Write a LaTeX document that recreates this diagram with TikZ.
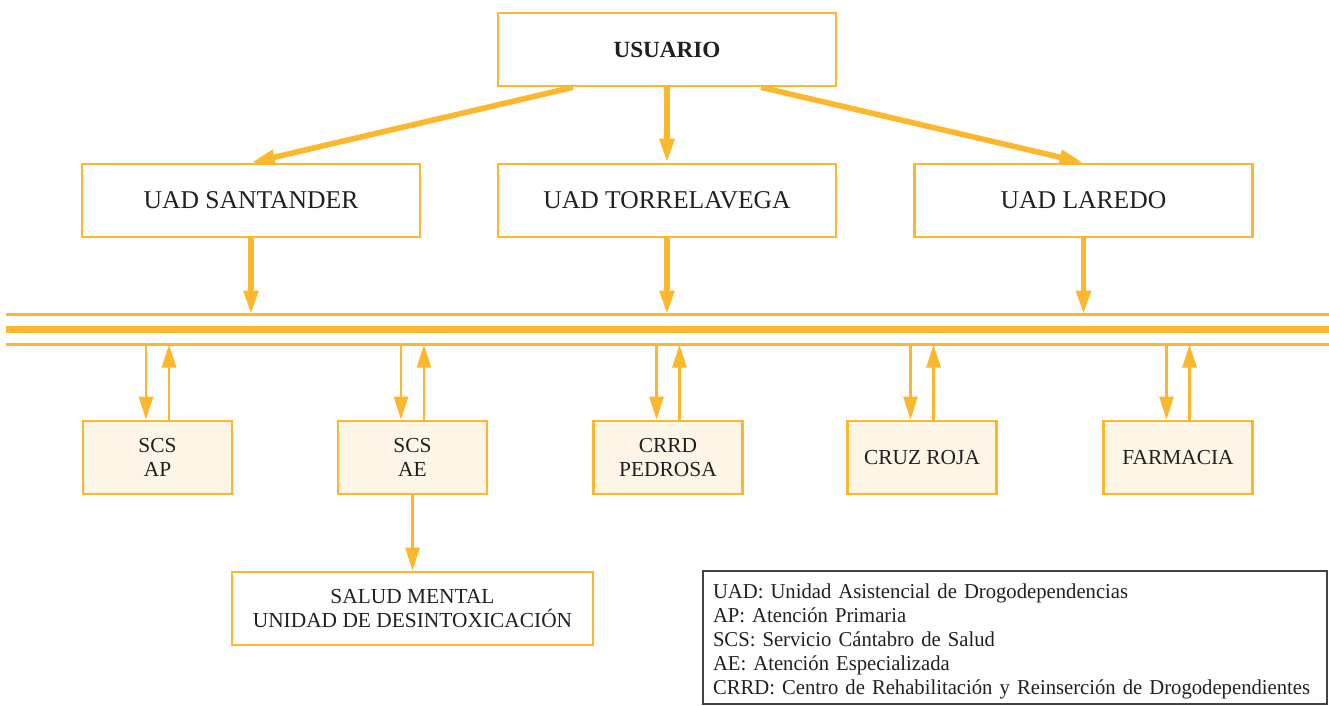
\documentclass[tikz,border=0pt]{standalone}
\usepackage{fontspec}
\setmainfont{Liberation Serif}
\newfontfamily\legendfont{Liberation Serif}[FakeStretch=0.975]
\usetikzlibrary{arrows.meta}
\definecolor{amber}{HTML}{FBB72D}
\definecolor{cream}{HTML}{FDF5E6}
\definecolor{ink}{HTML}{231F20}

\begin{document}
\begin{tikzpicture}
        [x=0.5pt, y=-0.5pt,
        box/.style={draw=amber, line width=1.3pt, text=ink, align=center, inner sep=0pt},
        bigbox/.style={box, minimum width=169pt, minimum height=36.5pt, font=\fontsize{12.8}{15}\selectfont},
        smallbox/.style={box, fill=cream, minimum width=74.5pt, minimum height=36.5pt, font=\fontsize{10.7}{11.7}\selectfont},
        thickarrow/.style={amber, line width=2.8pt, -{Triangle[length=12pt, width=7pt]}},
        thinarrow/.style={amber, line width=1.3pt, -{Triangle[length=11.5pt, width=7pt]}},
        busline/.style={amber, line width=1.2pt}]

        \useasboundingbox (0,0) rectangle (1329,706);

        \node[bigbox, font=\fontsize{11.6}{14}\selectfont\bfseries] (usuario) at (667,49.5) {USUARIO};
        \node[bigbox] (santander) at (251,200.5) {UAD SANTANDER};
        \node[bigbox] (torrelavega) at (667,200.5) {UAD TORRELAVEGA};
        \node[bigbox] (laredo) at (1083.5,200.5) {UAD LAREDO};

        \node[smallbox] (ap) at (157.5,457.5) {SCS\\AP};
        \node[smallbox] (ae) at (412.5,457.5) {SCS\\AE};
        \node[smallbox] (crrd) at (668,457.5) {CRRD\\PEDROSA};
        \node[smallbox] (cruz) at (922,457.5) {CRUZ ROJA};
        \node[smallbox] (farmacia) at (1178,457.5) {FARMACIA};

        \node[box, minimum width=180.5pt, minimum height=36.5pt, font=\fontsize{10.7}{11.7}\selectfont] (salud) at (412.5,608.5) {SALUD MENTAL\\UNIDAD DE DESINTOXICACIÓN};

        % legend box, bottom right
        \node[draw=ink!85, line width=0.6pt, text=ink, minimum width=312pt, minimum height=66.5pt,
            text width=302pt, inner xsep=5pt, inner ysep=0pt, align=left, font=\legendfont\fontsize{10.6}{11.95}\selectfont] (legend) at (1015,637.5)
            {\rule{0pt}{11.3pt}UAD: Unidad Asistencial de Drogodependencias\\
            AP: Atención Primaria\\
            SCS: Servicio Cántabro de Salud\\
            AE: Atención Especializada\\
            CRRD: Centro de Rehabilitación y Reinserción de Drogodependientes};

        % --- the bus: two thin lines round a thick one ---
        \coordinate (bustop) at (6,314.5);
        \coordinate (busbot) at (6,344.5);
        \draw[busline] (bustop) -- (1329,314.5);
        \draw[amber, line width=3.8pt] (6,329.5) -- (1329,329.5);
        \draw[busline] (busbot) -- (1329,344.5);

        \draw[thickarrow] ([xshift=-47pt]usuario.south) -- (santander.north);
        \draw[thickarrow] (usuario) -- (torrelavega);
        \draw[thickarrow] ([xshift=47pt]usuario.south) -- (laredo.north);

        \draw[thickarrow] (santander.south) -- (santander.south |- bustop);
        \draw[thickarrow] (torrelavega.south) -- (torrelavega.south |- bustop);
        \draw[thickarrow] (laredo.south) -- (laredo.south |- bustop);

        % a pair of arrows between the bus and each service
        \foreach \n in {ap,ae,crrd,cruz,farmacia}{
            \coordinate (\n-in) at ([xshift=-5.75pt]\n.north);
            \coordinate (\n-out) at ([xshift=5.75pt]\n.north);
            \draw[thinarrow] (\n-in |- busbot) -- (\n-in);
            \draw[thinarrow] (\n-out) -- (\n-out |- busbot);
        }

        \draw[thinarrow] (ae.south) -- (salud.north);
    \end{tikzpicture}
\end{document}
